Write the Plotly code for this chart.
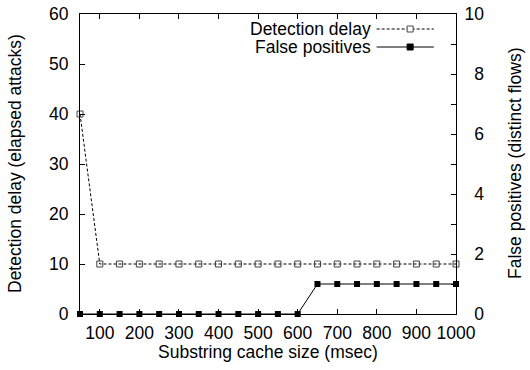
import plotly.graph_objects as go

cache_size = [50, 100, 150, 200, 250, 300, 350, 400, 450, 500, 550, 600, 650, 700, 750, 800, 850, 900, 950, 1000]
detection_delay = [40, 10, 10, 10, 10, 10, 10, 10, 10, 10, 10, 10, 10, 10, 10, 10, 10, 10, 10, 10]
false_positives = [0, 0, 0, 0, 0, 0, 0, 0, 0, 0, 0, 0, 1, 1, 1, 1, 1, 1, 1, 1]
x_ticks = [100, 200, 300, 400, 500, 600, 700, 800, 900, 1000]
y_ticks = [0, 10, 20, 30, 40, 50, 60]
y2_ticks = list(range(0, 11))
# right-aligned like gnuplot: pad single digits with a figure space
y2_labels = [(str(v) if v >= 10 else "\u2007" + str(v)) if v % 2 == 0 else "" for v in y2_ticks]
series_names = ["Detection delay", "False positives"]
axis_titles = ["Substring cache size (msec)", "Detection delay (elapsed attacks)", "False positives (distinct flows)"]

FONT = "Liberation Sans, Arial, sans-serif"
fs = 17.5

fig = go.Figure()
fig.add_trace(go.Scatter(
    x=cache_size, y=detection_delay, name=series_names[0], mode="lines+markers",
    line=dict(color="black", width=1, dash="3px,2px"),
    marker=dict(symbol="square-open", size=6, color="#444", line=dict(width=1)),
    showlegend=False, yaxis="y", cliponaxis=False))
fig.add_trace(go.Scatter(
    x=cache_size, y=false_positives, name=series_names[1], mode="lines+markers",
    line=dict(color="black", width=1),
    marker=dict(symbol="square", size=6, color="black"),
    showlegend=False, yaxis="y2", cliponaxis=False))

# gnuplot-style legend (text right-aligned, sample to its right)
legend_y = [0.95, 0.89]
for i, name in enumerate(series_names):
    yy = legend_y[i]
    fig.add_annotation(xref="paper", yref="paper", x=0.779, y=yy, text=name,
                       showarrow=False, xanchor="right", yanchor="middle",
                       font=dict(family=FONT, size=fs, color="black"))
    fig.add_shape(type="line", xref="paper", yref="paper", x0=0.789, x1=0.941, y0=yy, y1=yy,
                  line=dict(color="black", width=1, dash="3px,2px" if i == 0 else "solid"))
    cx = 0.878
    fig.add_shape(type="rect", xref="paper", yref="paper",
                  x0=cx - 0.008, x1=cx + 0.008, y0=yy - 0.01, y1=yy + 0.01,
                  line=dict(color="#444" if i == 0 else "black", width=1),
                  fillcolor="white" if i == 0 else "black")

# axis titles
fig.add_annotation(xref="paper", yref="paper", x=0.5, y=0, yshift=-38, text=axis_titles[0],
                   showarrow=False, xanchor="center", yanchor="middle",
                   font=dict(family=FONT, size=fs, color="black"))
fig.add_annotation(xref="paper", yref="paper", x=0, y=0.5, xshift=-65, text=axis_titles[1],
                   showarrow=False, xanchor="center", yanchor="middle", textangle=-90,
                   font=dict(family=FONT, size=fs, color="black"))
fig.add_annotation(xref="paper", yref="paper", x=1, y=0.5, xshift=59, text=axis_titles[2],
                   showarrow=False, xanchor="center", yanchor="middle", textangle=-90,
                   font=dict(family=FONT, size=fs, color="black"))

axis_common = dict(showgrid=False, zeroline=False, ticks="inside", ticklen=5,
                   tickcolor="black", linecolor="black", linewidth=1, automargin=False,
                   tickfont=dict(family=FONT, size=fs, color="black"))

fig.update_layout(
    width=530, height=370,
    margin=dict(l=80, r=74, t=14, b=56),
    plot_bgcolor="white", paper_bgcolor="white",
    font=dict(family=FONT, size=fs, color="black"),
    xaxis=dict(range=[50, 1000], tickvals=x_ticks, showline=True, mirror="ticks",
               ticklabelstandoff=3, **axis_common),
    yaxis=dict(range=[0, 60], tickvals=y_ticks, showline=True, mirror=False,
               ticklabelstandoff=7, **axis_common),
    yaxis2=dict(range=[0, 10], tickvals=y2_ticks, ticktext=y2_labels, overlaying="y", side="right",
                showline=True, ticklabelstandoff=4, **axis_common),
)

fig.write_html("out.html", config={"displayModeBar": False},
               post_script="document.body.style.margin='0';")
